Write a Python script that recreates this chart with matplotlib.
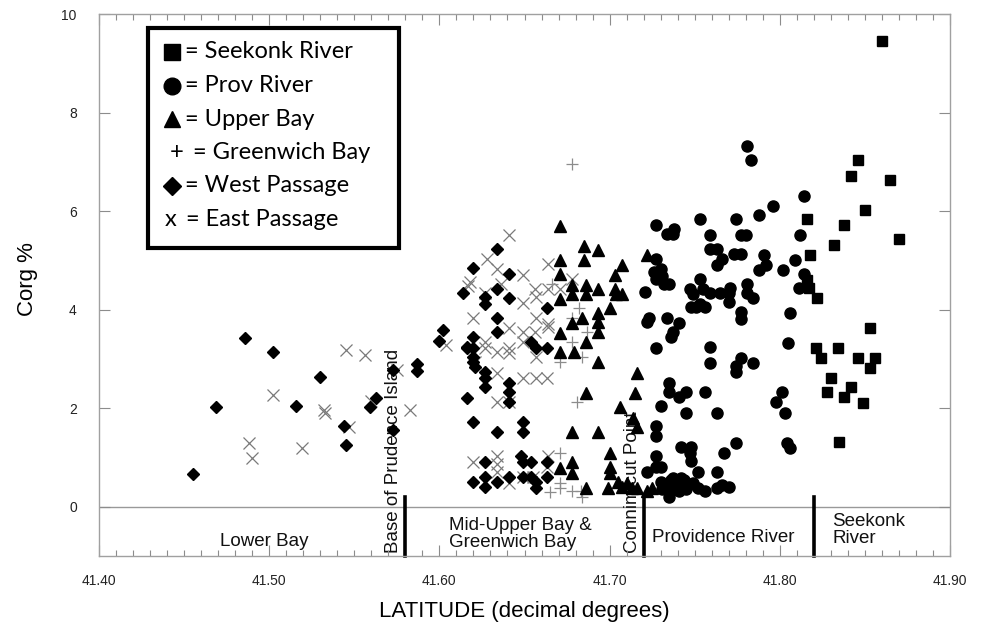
import matplotlib.pyplot as plt
from matplotlib.lines import Line2D
from matplotlib.ticker import MultipleLocator, FormatStrFormatter

# Seekonk River (squares)
seekonk_lat = [41.846, 41.842, 41.850, 41.816, 41.838, 41.832, 41.818, 41.816, 41.817,
               41.822, 41.853, 41.821, 41.824, 41.834, 41.846, 41.856, 41.853, 41.830,
               41.828, 41.842, 41.838, 41.849, 41.835, 41.860, 41.865, 41.870]
seekonk_c = [7.03, 6.72, 6.03, 5.83, 5.72, 5.32, 5.11, 4.60, 4.44,
             4.24, 3.62, 3.22, 3.01, 3.22, 3.01, 3.01, 2.81, 2.62,
             2.32, 2.42, 2.22, 2.11, 1.31, 9.45, 6.64, 5.44]

# Providence River (circles)
prov_lat = [41.781, 41.783, 41.727, 41.734, 41.737, 41.738, 41.753, 41.759, 41.774, 41.777,
            41.780, 41.759, 41.763, 41.766, 41.763, 41.773, 41.777, 41.727, 41.726, 41.730,
            41.731, 41.727, 41.732, 41.735, 41.721, 41.747, 41.749, 41.753, 41.755, 41.759,
            41.748, 41.751, 41.753, 41.756, 41.765, 41.770, 41.771, 41.770, 41.777, 41.777,
            41.781, 41.781, 41.784, 41.722, 41.723, 41.734, 41.741, 41.737, 41.736, 41.727,
            41.759, 41.759, 41.777, 41.774, 41.774, 41.784, 41.735, 41.735, 41.741, 41.745,
            41.756, 41.730, 41.745, 41.763, 41.727, 41.727, 41.742, 41.748, 41.747, 41.748,
            41.774, 41.767, 41.727, 41.727, 41.730, 41.722, 41.752, 41.763,
            41.730, 41.733, 41.736, 41.737, 41.740, 41.742, 41.744, 41.746, 41.749, 41.731,
            41.735, 41.737, 41.741, 41.745, 41.752, 41.756, 41.763, 41.766, 41.770,
            41.814, 41.796, 41.788, 41.812, 41.791, 41.792, 41.788, 41.802, 41.809, 41.814,
            41.811, 41.806, 41.805, 41.801, 41.798, 41.803, 41.804, 41.806]
prov_c = [7.33, 7.03, 5.72, 5.54, 5.54, 5.64, 5.83, 5.52, 5.83, 5.52,
          5.52, 5.23, 5.23, 5.03, 4.91, 5.13, 5.13, 5.03, 4.77, 4.83,
          4.68, 4.62, 4.52, 4.52, 4.36, 4.42, 4.32, 4.62, 4.42, 4.34,
          4.05, 4.05, 4.11, 4.05, 4.34, 4.34, 4.44, 4.15, 3.95, 3.81,
          4.52, 4.34, 4.24, 3.75, 3.83, 3.83, 3.73, 3.54, 3.44, 3.22,
          3.24, 2.91, 3.01, 2.85, 2.73, 2.91, 2.52, 2.32, 2.22, 2.32,
          2.32, 2.04, 1.91, 1.91, 1.63, 1.43, 1.22, 1.22, 1.10, 0.92,
          1.30, 1.10, 1.02, 0.81, 0.81, 0.71, 0.71, 0.71,
          0.51, 0.45, 0.55, 0.59, 0.49, 0.59, 0.55, 0.45, 0.49, 0.35,
          0.20, 0.35, 0.31, 0.35, 0.39, 0.31, 0.39, 0.45, 0.41,
          6.31, 6.11, 5.93, 5.52, 5.11, 4.91, 4.81, 4.81, 5.01, 4.72,
          4.44, 3.93, 3.32, 2.32, 2.12, 1.91, 1.30, 1.20]

# Upper Bay (triangles)
upper_lat = [41.671, 41.685, 41.693, 41.722, 41.671, 41.685, 41.707, 41.671, 41.703, 41.678,
             41.686, 41.671, 41.678, 41.686, 41.693, 41.703, 41.704, 41.707, 41.700, 41.693,
             41.684, 41.693, 41.693, 41.678, 41.671, 41.686, 41.671, 41.679, 41.693, 41.716,
             41.686, 41.715, 41.706, 41.714, 41.716, 41.678, 41.693, 41.700, 41.671, 41.678,
             41.678, 41.700, 41.700, 41.686, 41.699, 41.705, 41.707, 41.710, 41.713, 41.716,
             41.722, 41.725]
upper_c = [5.70, 5.30, 5.21, 5.11, 5.01, 5.01, 4.91, 4.72, 4.70, 4.50,
           4.50, 4.22, 4.32, 4.32, 4.42, 4.42, 4.32, 4.32, 4.03, 3.93,
           3.83, 3.75, 3.54, 3.73, 3.52, 3.34, 3.14, 3.14, 2.93, 2.71,
           2.30, 2.30, 2.02, 1.81, 1.61, 1.51, 1.51, 1.10, 0.79, 0.90,
           0.69, 0.81, 0.69, 0.39, 0.39, 0.51, 0.41, 0.49, 0.39, 0.39,
           0.31, 0.39]

# Greenwich Bay (+)
green_lat = [41.678, 41.666, 41.682, 41.678, 41.687, 41.678, 41.671, 41.684, 41.681, 41.671,
             41.671, 41.671, 41.665, 41.678, 41.683, 41.684]
green_c = [6.95, 4.52, 4.03, 3.83, 3.54, 3.34, 2.93, 3.03, 2.12, 1.10,
           0.49, 0.39, 0.29, 0.31, 0.31, 0.20]

# West Passage (diamonds)
west_lat = [41.486, 41.502, 41.469, 41.455, 41.516, 41.530, 41.544, 41.545, 41.559, 41.563,
            41.573, 41.573, 41.587, 41.587, 41.602, 41.600, 41.614, 41.616, 41.616,
            41.634, 41.620, 41.641, 41.627, 41.627, 41.634, 41.641, 41.663, 41.634, 41.634,
            41.620, 41.616, 41.620, 41.620, 41.620, 41.621, 41.627, 41.627, 41.627,
            41.654, 41.657, 41.663, 41.641, 41.641, 41.641, 41.620, 41.634, 41.649, 41.649,
            41.627, 41.620, 41.627, 41.627, 41.634, 41.641, 41.648, 41.649, 41.654, 41.649,
            41.654, 41.657, 41.657, 41.663, 41.663]
west_c = [3.42, 3.14, 2.02, 0.67, 2.04, 2.63, 1.63, 1.26, 2.02, 2.20,
          2.77, 1.55, 2.89, 2.75, 3.58, 3.36, 4.34, 3.24, 2.20,
          5.23, 4.85, 4.72, 4.26, 4.11, 4.42, 4.24, 4.03, 3.83, 3.54,
          3.44, 3.22, 3.22, 3.03, 2.93, 2.83, 2.73, 2.61, 2.42,
          3.34, 3.22, 3.22, 2.52, 2.32, 2.12, 1.71, 1.51, 1.71, 1.51,
          0.90, 0.51, 0.61, 0.41, 0.51, 0.61, 1.02, 0.90, 0.90, 0.61,
          0.61, 0.51, 0.39, 0.90, 0.61]

# East Passage (x)
east_lat = [41.545, 41.556, 41.502, 41.532, 41.533, 41.547, 41.488, 41.490, 41.519, 41.575,
            41.583, 41.560, 41.604, 41.641, 41.628, 41.634, 41.618, 41.617, 41.636, 41.649,
            41.664, 41.656, 41.657, 41.664, 41.627, 41.649, 41.620, 41.657, 41.664, 41.664,
            41.641, 41.649, 41.649, 41.656, 41.627, 41.627, 41.634, 41.641, 41.641, 41.657,
            41.621, 41.634, 41.649, 41.657, 41.663, 41.634, 41.641, 41.620, 41.634, 41.634,
            41.634, 41.641, 41.649, 41.655, 41.664, 41.663, 41.678, 41.671]
east_c = [3.18, 3.08, 2.26, 1.96, 1.91, 1.61, 1.30, 0.98, 1.20, 2.77,
          1.96, 2.15, 3.28, 5.52, 5.03, 4.83, 4.56, 4.48, 4.52, 4.70,
          4.93, 4.42, 4.26, 4.42, 4.34, 4.13, 3.83, 3.83, 3.71, 3.65,
          3.63, 3.54, 3.34, 3.54, 3.34, 3.22, 3.14, 3.22, 3.12, 3.03,
          2.93, 2.71, 2.61, 2.61, 2.61, 2.12, 2.12, 0.90, 1.02, 0.86,
          0.71, 0.49, 0.61, 0.61, 1.02, 0.81, 4.63, 4.42]

region_bounds = [41.58, 41.72, 41.82]

fig = plt.figure(figsize=(9.88, 6.33), dpi=100)
ax = fig.add_axes([99 / 988, 1 - 556 / 633, 851 / 988, 542 / 633])

# points
ax.plot(east_lat, east_c, 'x', color='#7a7a7a', markersize=8.5, mew=0.9, zorder=3)
ax.plot(green_lat, green_c, '+', color='#8c8c8c', markersize=8.5, mew=0.9, zorder=3)
ax.plot(west_lat, west_c, 'D', color='black', markersize=5.8, zorder=4)
ax.plot(upper_lat, upper_c, '^', color='black', markersize=8, zorder=4)
ax.plot(prov_lat, prov_c, 'o', color='black', markersize=8, zorder=4)
ax.plot(seekonk_lat, seekonk_c, 's', color='black', markersize=7.5, zorder=4)

# zero line and region dividers
ax.axhline(0, color='#999999', lw=1, zorder=1)
for b in region_bounds:
    ax.plot([b, b], [-1, 0.2], color='black', lw=2.6, zorder=2, clip_on=False)

txt = dict(fontsize=13.5, family='Liberation Sans', color='#111111', zorder=1)
ax.text(41.497, -0.70, 'Lower Bay', ha='center', va='center', **txt)
ax.text(41.573, -0.93, 'Base of Prudence Island', rotation=90, ha='center', va='bottom', **txt)
ax.text(41.6056, -0.55, 'Mid-Upper Bay &\nGreenwich Bay', ha='left', va='center',
        linespacing=1.0, **txt)
ax.text(41.7132, -0.94, 'Connimicut Point', rotation=90, ha='center', va='bottom', **txt)
ax.text(41.767, -0.62, 'Providence River', ha='center', va='center', **txt)
ax.text(41.8307, -0.47, 'Seekonk\nRiver', ha='left', va='center', linespacing=1.0, **txt)

# axes
ax.set_xlim(41.40, 41.90)
ax.set_ylim(-1, 10)
ax.xaxis.set_major_locator(MultipleLocator(0.1))
ax.xaxis.set_minor_locator(MultipleLocator(0.01))
ax.xaxis.set_major_formatter(FormatStrFormatter('%.2f'))
ax.set_yticks([0, 2, 4, 6, 8, 10])
ax.tick_params(axis='both', which='both', direction='in', top=True, right=True,
               colors='#8c8c8c', labelcolor='#222222', labelsize=10)
ax.tick_params(axis='both', which='major', length=8, width=0.8)
ax.tick_params(axis='x', which='minor', length=4, width=0.8)
ax.tick_params(axis='x', pad=13)
ax.tick_params(axis='y', pad=16)
for lbl in ax.get_xticklabels() + ax.get_yticklabels():
    lbl.set_family('Liberation Sans')
for s in ax.spines.values():
    s.set_color('#a0a0a0')
    s.set_linewidth(1)

fig.text(27 / 988, 1 - 279 / 633, 'Corg %', rotation=90, ha='center', va='center',
         fontsize=16, family='Liberation Sans')
fig.text(524 / 988, 1 - 612 / 633, 'LATITUDE (decimal degrees)', ha='center', va='center',
         fontsize=16, family='Liberation Sans')

# legend box
fig.patches.append(plt.Rectangle((148 / 988, 1 - 248 / 633), 251 / 988, 220 / 633,
                                 transform=fig.transFigure, fill=False,
                                 edgecolor='black', lw=3, zorder=5))
leg_rows = [('s', '= Seekonk River'), ('o', '= Prov River'), ('^', '= Upper Bay'),
            ('+', '= Greenwich Bay'), ('D', '= West Passage'), ('x', '= East Passage')]
leg_y = [52, 86, 119, 153, 186, 219]
for (m, label), py in zip(leg_rows, leg_y):
    yf = 1 - py / 633
    if m in ('+', 'x'):
        fig.text(177 / 988 if m == '+' else 171 / 988, yf, m, ha='center', va='center',
                 fontsize=17, family='Lato')
        tx = 193 / 988 if m == '+' else 186 / 988
    else:
        size = {'s': 12, 'o': 12, '^': 11, 'D': 9}[m]
        fig.add_artist(Line2D([172 / 988], [yf], marker=m, color='black', markersize=size,
                              transform=fig.transFigure))
        tx = 185 / 988
    fig.text(tx, yf, label, ha='left', va='center', fontsize=17, family='Lato')

fig.savefig('out.png', dpi=100)
